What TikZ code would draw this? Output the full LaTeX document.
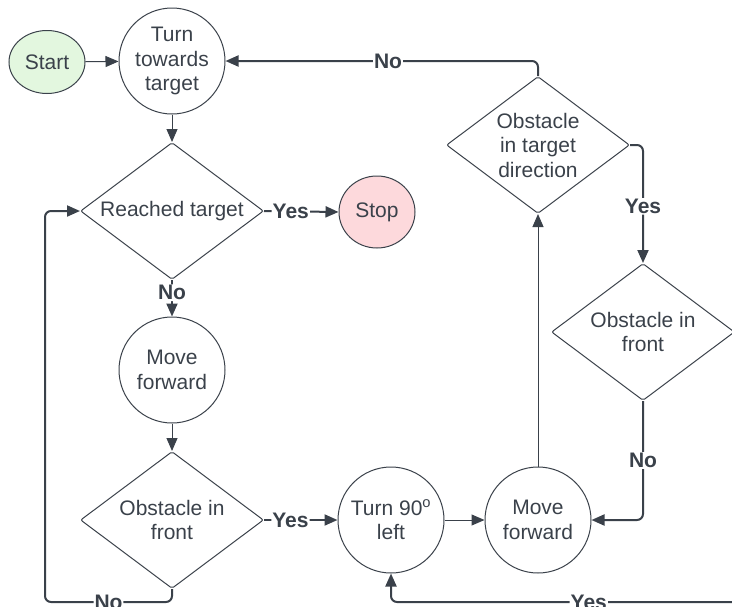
\documentclass[tikz,border=0pt]{standalone}
\usepackage{fontspec}
\setmainfont{Liberation Sans}
\usetikzlibrary{shapes.geometric,arrows.meta}
\definecolor{inkgrey}{HTML}{3A414A}
\definecolor{startgreen}{HTML}{E3F7DF}
\definecolor{stoppink}{HTML}{FDD9DC}
\begin{document}
\begin{tikzpicture}[x=1pt,y=-1pt,
    every node/.style={text=inkgrey, align=center, font=\fontsize{21}{24.5}\selectfont},
    term/.style={draw=inkgrey, ellipse, line width=1pt, inner sep=0pt, minimum width=76pt},
    act/.style={draw=inkgrey, circle, line width=1pt, inner sep=0pt, minimum size=106pt},
    ask/.style={draw=inkgrey, diamond, aspect=1.34, rounded corners=2pt, line width=1pt,
        inner sep=0pt, minimum width=183pt, minimum height=137pt},
    conn/.style={draw=inkgrey, line width=2pt, rounded corners=6pt, -{Triangle[length=13pt,width=11pt]}},
    thinconn/.style={conn, line width=1pt},
    lbl/.style={fill=white, inner sep=1pt, font=\fontsize{21}{22}\selectfont\bfseries}]
        \useasboundingbox (0,0) rectangle (732,606);
        %\node[term] (FLOW_BEGIN) at (47,62) {Begin};
        \node[term, fill=startgreen, minimum height=63pt] (FLOW_START) at (47,62) {Start};
        \node[act] (FLOW_TURN) at (172,61) {Turn\\towards\\target};
        \node[ask] (FLOW_REACH) at (172,211) {Reached target};
        \node[term, fill=stoppink, minimum height=72pt] (FLOW_STOP) at (377,212) {Stop};
        \node[act] (FLOW_MOVE_A) at (172,370) {Move\\forward};
        \node[ask] (FLOW_OIF_A) at (172,520) {Obstacle in\\front};
        \node[act] (FLOW_T90) at (391,520) {Turn 90\textsuperscript{o}\\left};
        \node[act] (FLOW_MOVE_B) at (538,520) {Move\\forward};
        \node[ask] (FLOW_OTD) at (538,145) {Obstacle\\in target\\direction};
        \node[ask] (FLOW_OIF_B) at (643,332) {Obstacle in\\front};
        \coordinate (FLOW_LOOP) at (45,602);
        \coordinate (FLOW_EDGE) at (732,602);
        \draw[thinconn] (FLOW_START) to (FLOW_TURN);
        \draw[thinconn] (FLOW_TURN) to (FLOW_REACH);
        \draw[conn] (FLOW_REACH.east) -- node[lbl, pos=0.36] {Yes} (FLOW_STOP.west);
        \draw[conn] (FLOW_REACH.south) -- node[lbl, pos=0.35] {No} (FLOW_MOVE_A.north);
        \draw[thinconn] (FLOW_MOVE_A) to (FLOW_OIF_A);
        \draw[conn] (FLOW_OIF_A.east) -- node[lbl, pos=0.36] {Yes} (FLOW_T90.west);
        \draw[conn] (FLOW_OIF_A.south) |- node[lbl, pos=0.75] {No} (FLOW_LOOP) |- (FLOW_REACH.west);
        \draw[thinconn] (FLOW_T90) to (FLOW_MOVE_B);
        \draw[thinconn] (FLOW_MOVE_B) to (FLOW_OTD);
        \draw[conn] (FLOW_OTD.north) |- node[lbl, pos=0.74] {No} (FLOW_TURN.east);
        \draw[conn] (FLOW_OTD.east) -| node[lbl, pos=0.76] {Yes} (FLOW_OIF_B.north);
        \draw[conn] (FLOW_OIF_B.south) |- node[lbl, pos=0.25] {No} (FLOW_MOVE_B.east);
        \draw[conn] (FLOW_EDGE) -| node[lbl, pos=0.21] {Yes} (FLOW_T90.south);
\end{tikzpicture}
\end{document}
